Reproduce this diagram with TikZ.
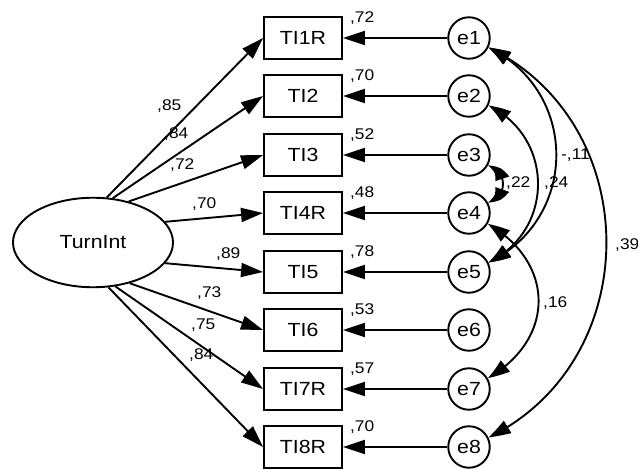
\documentclass[tikz,border=0pt]{standalone}
\usepackage{fontspec}
\setmainfont{Liberation Sans}[FakeStretch=1.12]
\usetikzlibrary{arrows.meta,shapes.geometric,bending}
\begin{document}
\begin{tikzpicture}[x=1pt,y=1pt,
  every node/.style={inner sep=0pt},
  obs/.style={draw, line width=1.9pt, minimum width=78pt, minimum height=41.5pt, font=\fontsize{19}{20}\selectfont},
  err/.style={draw, circle, line width=1.9pt, minimum size=41.5pt, font=\fontsize{19}{20}\selectfont},
  lat/.style={draw, ellipse, line width=1.9pt, minimum width=160pt, minimum height=89.5pt, font=\fontsize{19}{20}\selectfont},
  lbl/.style={anchor=base west, font=\fontsize{15.5}{16}\selectfont},
  arr/.style={line width=1.9pt, -{Triangle[length=22pt,width=14pt]}},
  cov/.style={line width=1.9pt, {Triangle[length=22pt,width=14pt,bend]}-{Triangle[length=22pt,width=14pt,bend]}},
]
\fill[white] (0,0) rectangle (638,-470);
\useasboundingbox (0,0) rectangle (638,-470);

\node[lat] (T) at (93,-242.5) {TurnInt};

\node[obs] (B1) at (303,-38) {TI1R};
\node[obs] (B2) at (303,-96) {TI2};
\node[obs] (B3) at (303,-155) {TI3};
\node[obs] (B4) at (303,-213) {TI4R};
\node[obs] (B5) at (303,-272) {TI5};
\node[obs] (B6) at (303,-330) {TI6};
\node[obs] (B7) at (303,-389) {TI7R};
\node[obs] (B8) at (303,-447) {TI8R};

\node[err] (E1) at (469,-38) {e1};
\node[err] (E2) at (469,-96) {e2};
\node[err] (E3) at (469,-155) {e3};
\node[err] (E4) at (469,-213) {e4};
\node[err] (E5) at (469,-272) {e5};
\node[err] (E6) at (469,-330) {e6};
\node[err] (E7) at (469,-389) {e7};
\node[err] (E8) at (469,-447) {e8};

% loadings
\draw[arr] (T.73) -- (B1.west);
\draw[arr] (T.66) -- (B2.west);
\draw[arr] (T.49) -- (B3.west);
\draw[arr] (T.16) -- (B4.west);
\draw[arr] (T.-16) -- (B5.west);
\draw[arr] (T.-48) -- (B6.west);
\draw[arr] (T.-63) -- (B7.west);
\draw[arr] (T.-71) -- (B8.west);

% errors
\draw[arr] (E1) -- (B1);
\draw[arr] (E2) -- (B2);
\draw[arr] (E3) -- (B3);
\draw[arr] (E4) -- (B4);
\draw[arr] (E5) -- (B5);
\draw[arr] (E6) -- (B6);
\draw[arr] (E7) -- (B7);
\draw[arr] (E8) -- (B8);

% covariances
\draw[cov] (E1) to[out=-26,in=26,looseness=1.2] (E5);
\draw[cov] (E2) to[out=-26,in=26,looseness=1.2] (E5);
\draw[cov] (E1) to[out=-26,in=26,looseness=1.15] (E8);
\draw[cov] (E4) to[out=-30,in=30,looseness=1.3] (E7);
\draw[cov] (E3.-30) to[out=-10,in=10,looseness=1.45] (E4.30);

% loading labels
\node[lbl] (l1) at (157,-110.5) {,85};
\node[lbl] (l2) at (164,-139) {,84};
\node[lbl] (l3) at (170,-170) {,72};
\node[lbl] (l4) at (192,-209) {,70};
\node[lbl] (l5) at (216,-259) {,89};
\node[lbl] (l6) at (197,-298) {,73};
\node[lbl] (l7) at (191,-330) {,75};
\node[lbl] (l8) at (189,-360) {,84};

% R2 labels
\node[lbl] (r1) at ([shift={(7pt,-6.5pt)}]B1.north east) {,72};
\node[lbl] (r2) at ([shift={(7pt,-6.5pt)}]B2.north east) {,70};
\node[lbl] (r3) at ([shift={(7pt,-6.5pt)}]B3.north east) {,52};
\node[lbl] (r4) at ([shift={(7pt,-6.5pt)}]B4.north east) {,48};
\node[lbl] (r5) at ([shift={(7pt,-6.5pt)}]B5.north east) {,78};
\node[lbl] (r6) at ([shift={(7pt,-6.5pt)}]B6.north east) {,53};
\node[lbl] (r7) at ([shift={(7pt,-6.5pt)}]B7.north east) {,57};
\node[lbl] (r8) at ([shift={(7pt,-6.5pt)}]B8.north east) {,70};

% covariance labels
\node[lbl] (c1) at (561,-160) {-,11};
\node[lbl] (c2) at (506,-188) {,22};
\node[lbl] (c3) at (544,-188) {,24};
\node[lbl] (c4) at (615,-250) {,39};
\node[lbl] (c5) at (543,-308) {,16};
\end{tikzpicture}
\end{document}
